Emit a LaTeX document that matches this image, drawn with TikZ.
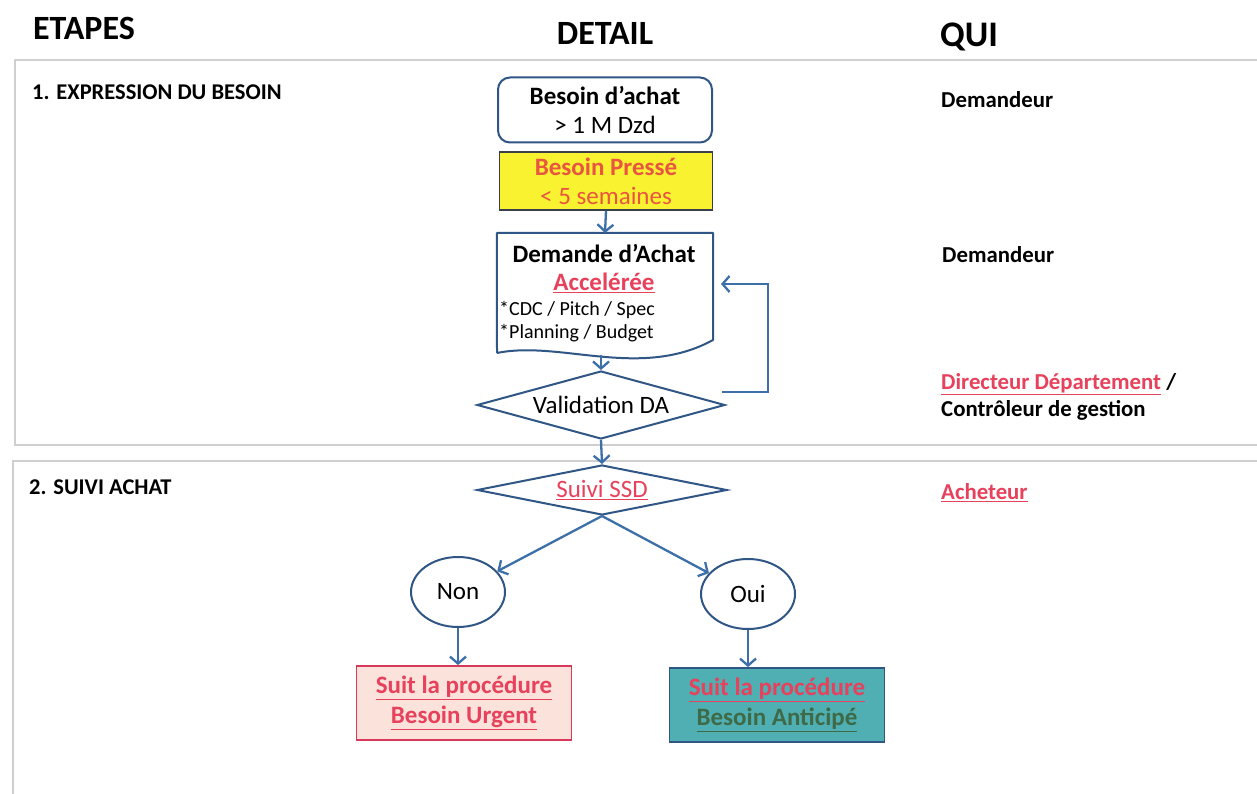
\documentclass[tikz,border=0pt]{standalone}
\usepackage{fontspec}
\setmainfont{Carlito}
\usetikzlibrary{shapes.geometric,arrows.meta,calc}
\definecolor{lineblue}{HTML}{3D6FA8}
\definecolor{boxblue}{HTML}{2F5685}
\definecolor{redtxt}{HTML}{E8415C}
\definecolor{orangered}{HTML}{E85540}
\definecolor{yel}{HTML}{F9F230}
\definecolor{pinkfill}{HTML}{FBE3DB}
\definecolor{pinkline}{HTML}{D8385A}
\definecolor{tealfill}{HTML}{4FAFB2}
\definecolor{greentxt}{HTML}{3E6A48}
\definecolor{panelgray}{HTML}{CFCFD2}
\definecolor{darkframe}{HTML}{3A3F4A}
\begin{document}
\begin{tikzpicture}[x=1pt,y=-1pt,
  every node/.style={font=\fontsize{25}{29}\selectfont, inner sep=0pt},
  head/.style={font=\bfseries\fontsize{34}{36}\selectfont},
  section/.style={anchor=west, font=\bfseries\fontsize{22.5}{26}\selectfont},
  qui/.style={anchor=west, font=\bfseries\fontsize{22.8}{27}\selectfont},
  frame/.style={draw=boxblue, line width=2pt},
  arr/.style={draw=lineblue, line width=2.3pt, -{Straight Barb[length=7pt,width=16pt]}},
  plain/.style={draw=lineblue, line width=2.3pt},
  panel/.style={draw=panelgray, line width=1.5pt}]
\useasboundingbox (0,0) rectangle (1257,794);
\clip (0,0) rectangle (1257,794);
\fill[white] (0,0) rectangle (1257,794);

% panels
\draw[panel] (15,60) rectangle (1275,445);
\draw[panel] (13,461) rectangle (1275,815);

% headers
\node[head] (hetapes) at (84,28) {ETAPES};
\node[head] (hdetail) at (605,33) {DETAIL};
\node[head, font=\bfseries\fontsize{36}{38}\selectfont] (hqui) at (969,37) {QUI};

% section labels
\node[section] (s1) at (32,92) {1. EXPRESSION DU BESOIN};
\node[section] (s2) at (29,487) {2. SUIVI ACHAT};

% QUI column
\node[qui] (q1) at (941,100) {Demandeur};
\node[qui] (q2) at (942,255) {Demandeur};
\node[qui] (q3) at (941,384) {\textcolor{redtxt}{\underline{Directeur Département}} /};
\node[qui] (q4) at (941,410) {Contrôleur de gestion};
\node[qui] (q5) at (941,493) {\textcolor{redtxt}{\underline{Acheteur}}};

% box 1
\node[frame, rounded corners=12pt, minimum width=214pt, minimum height=65pt, align=center]
  (b1) at (605,110) {\textbf{Besoin d’achat}\\> 1 M Dzd};
% box 2
\node[draw=darkframe, line width=1.6pt, fill=yel, minimum width=213pt, minimum height=58pt, align=center, text=orangered]
  (b2) at (606,181) {\textbf{Besoin Pressé}\\< 5 semaines};

% demande d'achat (document shape)
\node[minimum width=216pt, minimum height=122pt, anchor=north] (da) at (605,233) {};
\draw[frame, line join=round] (497,353) -- (da.north west) -- (da.north east) -- (713,340)
  .. controls (640,380) and (560,340) .. (497,353);
\node[font=\bfseries\fontsize{25}{29}\selectfont] (da1) at (604,253) {Demande d’Achat};
\node[font=\bfseries\fontsize{25}{29}\selectfont, text=redtxt] (da2) at (604,283) {\underline{Accelérée}};
\node[anchor=west, font=\fontsize{20}{24}\selectfont] (da3) at (499,310) {*CDC / Pitch / Spec};
\node[anchor=west, font=\fontsize{20}{24}\selectfont] (da4) at (499,333) {*Planning / Budget};

% validation diamond
\node[diamond, frame, fill=white, aspect=3.6, minimum width=248pt, minimum height=68pt]
  (val) at (601,405) {Validation DA};

% suivi SSD diamond
\node[diamond, frame, fill=white, aspect=5.5, minimum width=250pt, minimum height=50pt, text=redtxt]
  (ssd) at (602,490) {\underline{Suivi SSD}};

% ellipses
\node[ellipse, frame, minimum width=94pt, minimum height=70pt] (non) at (458,592) {Non};
\node[ellipse, frame, minimum width=94pt, minimum height=70pt] (oui) at (748,594) {Oui};

% result boxes
\node[draw=pinkline, line width=1.8pt, fill=pinkfill, minimum width=215pt, minimum height=74pt, align=center,
  font=\bfseries\fontsize{25}{30}\selectfont, text=redtxt]
  (rnon) at (464,703) {\underline{Suit la procédure}\\\underline{Besoin Urgent}};
\node[draw=boxblue, line width=1.8pt, fill=tealfill, minimum width=215pt, minimum height=74pt, align=center,
  font=\bfseries\fontsize{25}{30}\selectfont]
  (roui) at (777,705) {\textcolor{redtxt}{\underline{Suit la procédure}}\\\textcolor{greentxt}{\underline{Besoin Anticipé}}};

% connectors
\draw[arr] (b2.south) -- (da.north);
\draw[arr] (val.north |- da.south) -- (val.north);
\draw[arr] (val.south) -- (ssd.north);
\coordinate (loopend) at (721,284);
\draw[plain, -{Straight Barb[length=7pt,width=16pt]}] ([xshift=-4pt,yshift=13pt]val.east) -| (768,284) -- (loopend);
\draw[arr] (ssd.south) -- (non);
\draw[arr] (ssd.south) -- (oui);
\draw[arr] (non.south) -- (non.south |- rnon.north);
\draw[arr] (oui.south) -- (oui.south |- roui.north);
\end{tikzpicture}
\end{document}
